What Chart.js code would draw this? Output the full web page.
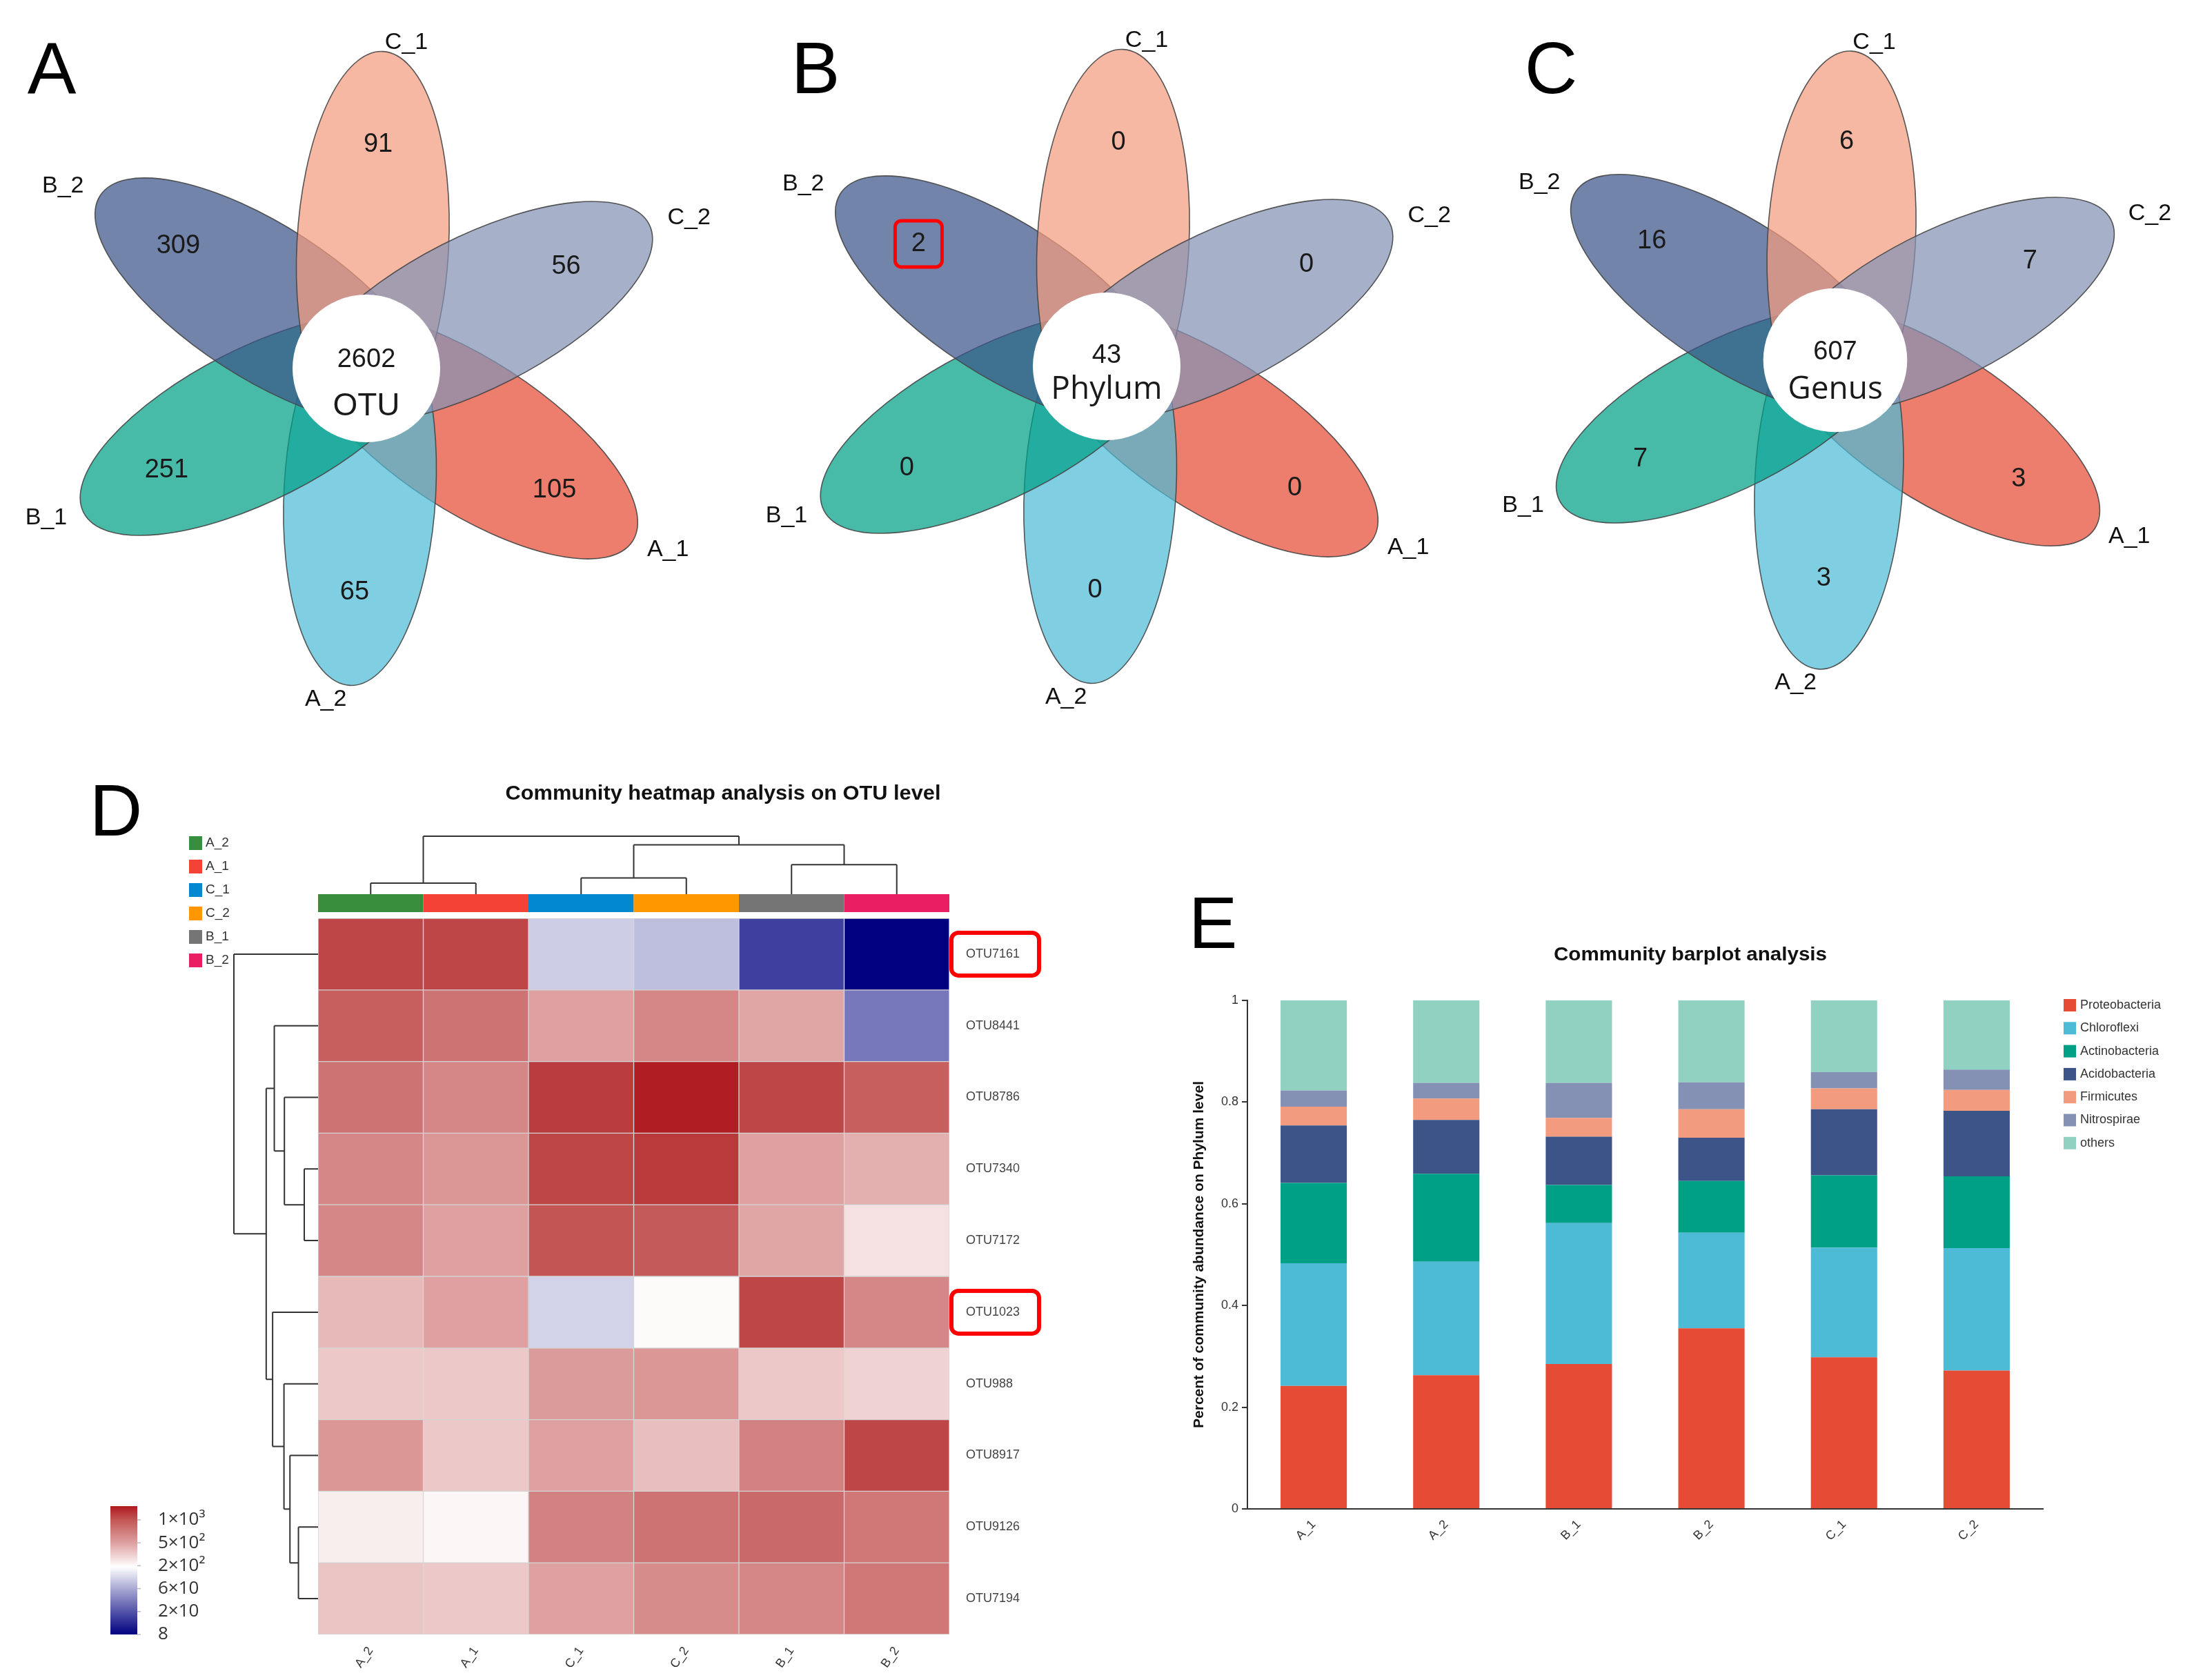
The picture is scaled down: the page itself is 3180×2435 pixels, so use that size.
<!DOCTYPE html>
<html>
<head>
<meta charset="utf-8">
<title>OTU / Phylum / Genus Venn, heatmap and barplot</title>
<script src="https://cdn.jsdelivr.net/npm/chart.js@4.4.1/dist/chart.umd.min.js"></script>
<style>
  html, body { margin: 0; padding: 0; background: #fff; }
  body { position: relative; width: 3180px; height: 2435px; overflow: hidden; font-family: 'Liberation Sans', Arial, sans-serif; }
  canvas { position: absolute; }
  .tag { position: absolute; font-size: 106px; line-height: 1; color: #000; transform: translate(-50%, -50%); }
</style>
</head>
<body>
<div class="tag" style="left:75px;top:98px">A</div>
<div class="tag" style="left:1182px;top:98px">B</div>
<div class="tag" style="left:2248px;top:98px">C</div>
<div class="tag" style="left:168px;top:1174px">D</div>
<div class="tag" style="left:1758px;top:1337px">E</div>

<canvas id="vennA" width="1060" height="1060" style="left:0;top:0"></canvas>
<canvas id="vennB" width="1060" height="1060" style="left:1060px;top:0"></canvas>
<canvas id="vennC" width="1060" height="1060" style="left:2120px;top:0"></canvas>
<canvas id="heat" width="1600" height="1335" style="left:0;top:1100px"></canvas>
<canvas id="bars" width="1530" height="1135" style="left:1650px;top:1300px"></canvas>

<script>
// ---- Venn data (petal order) ----
const vennGroups = ['C_1', 'C_2', 'A_1', 'A_2', 'B_1', 'B_2'];
const otuUnique = [91, 56, 105, 65, 251, 309];
const otuCore = 2602;
const phylumUnique = [0, 0, 0, 0, 0, 2];
const phylumCore = 43;
const genusUnique = [6, 7, 3, 3, 7, 16];
const genusCore = 607;

// ---- Heatmap data ----
const heatSamples = ['A_2', 'A_1', 'C_1', 'C_2', 'B_1', 'B_2'];
const otuIds = ['OTU7161', 'OTU8441', 'OTU8786', 'OTU7340', 'OTU7172', 'OTU1023', 'OTU988', 'OTU8917', 'OTU9126', 'OTU7194'];
const otu7161 = [1110, 1110, 96, 79, 16, 8];
const otu8441 = [914, 758, 500, 629, 474, 32];
const otu8786 = [758, 629, 1190, 1470, 1110, 914];
const otu7340 = [629, 547, 1110, 1206, 500, 428];
const otu7172 = [629, 500, 1000, 952, 474, 258];
const otu1023 = [387, 500, 103, 200, 1110, 629];
const otu988 = [334, 334, 524, 547, 334, 302];
const otu8917 = [547, 334, 500, 370, 660, 1110];
const otu9126 = [227, 210, 660, 758, 830, 723];
const otu7194 = [346, 334, 500, 603, 629, 723];
const heatRows = [otu7161, otu8441, otu8786, otu7340, otu7172, otu1023, otu988, otu8917, otu9126, otu7194];
const legendValues = [8, 20, 60, 200, 500, 1000];
const legendLabels = ['8', '2×10', '6×10', '2×10²', '5×10²', '1×10³'];
// dendrograms, hclust style: negative = leaf, positive = earlier merge
const colMerges = [[-1, -2], [-3, -4], [-5, -6], [2, 3], [1, 4]];
const colHeights = [0.19, 0.28, 0.51, 0.85, 1.0];
const rowMerges = [[-4, -5], [-3, 1], [-2, 2], [-9, -10], [-8, 4], [-7, 5], [-6, 6], [3, 7], [-1, 8]];
const rowHeights = [0.164, 0.40, 0.52, 0.233, 0.334, 0.405, 0.54, 0.616, 1.0];
const highlightedOtus = ['OTU7161', 'OTU1023'];

// ---- Barplot data ----
const barSamples = ['A_1', 'A_2', 'B_1', 'B_2', 'C_1', 'C_2'];
const phyla = ['Proteobacteria', 'Chloroflexi', 'Actinobacteria', 'Acidobacteria', 'Firmicutes', 'Nitrospirae', 'others'];
const proteobacteria = [0.242, 0.263, 0.285, 0.355, 0.298, 0.272];
const chloroflexi = [0.241, 0.223, 0.277, 0.188, 0.216, 0.241];
const actinobacteria = [0.158, 0.173, 0.075, 0.102, 0.142, 0.141];
const acidobacteria = [0.113, 0.106, 0.095, 0.085, 0.130, 0.129];
const firmicutes = [0.037, 0.042, 0.037, 0.056, 0.041, 0.041];
const nitrospirae = [0.032, 0.031, 0.069, 0.053, 0.032, 0.040];
const others = [0.177, 0.162, 0.162, 0.161, 0.141, 0.136];
const phylumSeries = [proteobacteria, chloroflexi, actinobacteria, acidobacteria, firmicutes, nitrospirae, others];

// ---- Styles ----
const npg = ['#E64B35', '#4DBBD5', '#00A087', '#3C5488', '#F39B7F', '#8491B4', '#91D1C2'];
const petalFill = { A_1: '#E64B35', A_2: '#4DBBD5', B_1: '#00A087', B_2: '#3C5488', C_1: '#F39B7F', C_2: '#8491B4' };
const groupColours = { A_2: '#388E3C', A_1: '#F44336', C_1: '#0288D1', C_2: '#FF9800', B_1: '#757575', B_2: '#E91E63' };
const FONT = "'Liberation Sans', Arial, sans-serif";

Chart.defaults.font.family = FONT;
Chart.defaults.color = '#333';
Chart.defaults.animation = false;
Chart.defaults.events = [];
Chart.defaults.plugins.legend.display = false;
Chart.defaults.plugins.tooltip.enabled = false;

function hexToRgba(hex, a) {
    const r = parseInt(hex.slice(1, 3), 16), g = parseInt(hex.slice(3, 5), 16), b = parseInt(hex.slice(5, 7), 16);
    return `rgba(${r}, ${g}, ${b}, ${a})`;
}

// draws text squeezed to a given width (stands in for a narrow bold face)
function fitText(ctx, text, cx, cy, font, width) {
    ctx.save();
    ctx.font = font;
    const w = ctx.measureText(text).width;
    ctx.translate(cx, cy);
    ctx.scale(width / w, 1);
    ctx.textAlign = 'center';
    ctx.textBaseline = 'middle';
    ctx.fillText(text, 0, 0);
    ctx.restore();
}

// --- Venn flowers ---
const petalAngles = [87, 27, -33, -93, -153, 147];
const labelAngles = [83, 25, -31, -97, -155, 149];
const labelRadii = [476, 516, 510, 483, 512, 513];
const PETAL_OFFSET = 178, PETAL_A = 282, PETAL_B = 110, NUM_R = 325, CORE_R = 107;

function makeVenn(id, unique, core, word, o) {
    const W = 1060, H = 1060;
    const vennDraw = {
        id: 'vennDraw',
        afterDatasetsDraw(chart) {
            const { ctx, scales: { x, y } } = chart;
            const s = o.size;
            const unit = (x.getPixelForValue(100) - x.getPixelForValue(0)) / 100;
            const at = (r, deg) => [x.getPixelForValue(r * s * Math.cos(deg * Math.PI / 180)),
                                    y.getPixelForValue(r * s * Math.sin(deg * Math.PI / 180))];
            ctx.save();
            // petals, drawn A_1 .. C_2 so later groups sit on top
            vennGroups.map((g, i) => i)
                .sort((a, b) => vennGroups[a].localeCompare(vennGroups[b]))
                .forEach(i => {
                    const [px, py] = at(PETAL_OFFSET, petalAngles[i]);
                    ctx.beginPath();
                    ctx.ellipse(px, py, PETAL_A * s * unit, PETAL_B * s * unit, -petalAngles[i] * Math.PI / 180, 0, Math.PI * 2);
                    ctx.fillStyle = hexToRgba(petalFill[vennGroups[i]], 0.72);
                    ctx.fill();
                    ctx.lineWidth = 1.6;
                    ctx.strokeStyle = 'rgba(70, 70, 70, 0.9)';
                    ctx.stroke();
                });
            // white core
            const [ox, oy] = at(0, 0);
            ctx.beginPath();
            ctx.arc(ox, oy, CORE_R * s * unit, 0, Math.PI * 2);
            ctx.fillStyle = '#fff';
            ctx.fill();

            ctx.fillStyle = '#1a1a1a';
            ctx.textAlign = 'center';
            ctx.textBaseline = 'middle';
            ctx.font = `38px ${FONT}`;
            ctx.fillText(String(core), ox, oy + o.coreDy[0]);
            ctx.font = o.wordFont;
            ctx.fillText(word, ox, oy + o.coreDy[1]);

            ctx.font = `38px ${FONT}`;
            unique.forEach((v, i) => {
                const [nx, ny] = at(NUM_R, petalAngles[i]);
                ctx.fillStyle = '#1a1a1a';
                ctx.fillText(String(v), nx, ny);
                if (o.highlight === vennGroups[i]) {
                    ctx.beginPath();
                    ctx.roundRect(nx - 34, ny - 34, 68, 67, 9);
                    ctx.lineWidth = 5;
                    ctx.strokeStyle = '#f00';
                    ctx.stroke();
                }
            });
            ctx.font = `34px ${FONT}`;
            ctx.fillStyle = '#111';
            vennGroups.forEach((g, i) => {
                const [lx, ly] = at(labelRadii[i], labelAngles[i]);
                ctx.fillText(g, lx, ly);
            });
            ctx.restore();
        }
    };
    return new Chart(document.getElementById(id), {
        type: 'scatter',
        data: { datasets: [{ data: [], pointRadius: 0 }] },
        options: {
            responsive: false,
            devicePixelRatio: 1,
            layout: { padding: 0 },
            scales: {
                x: { type: 'linear', display: false, min: -o.cx, max: W - o.cx },
                y: { type: 'linear', display: false, min: -(H - o.cy), max: o.cy }
            }
        },
        plugins: [vennDraw]
    });
}

makeVenn('vennA', otuUnique, otuCore, 'OTU', { cx: 531, cy: 534, size: 1, coreDy: [-12, 55], wordFont: `46px ${FONT}` });
makeVenn('vennB', phylumUnique, phylumCore, 'Phylum', { cx: 544, cy: 531, size: 1, coreDy: [-15, 34], wordFont: "46px 'Open Sans', sans-serif", highlight: 'B_2' });
makeVenn('vennC', genusUnique, genusCore, 'Genus', { cx: 540, cy: 522, size: 0.975, coreDy: [-11, 43], wordFont: "46px 'Open Sans', sans-serif" });

// --- Heatmap colour scale ---
const colourStops = [[0, [0, 0, 128]], [1.5, [125, 125, 190]], [2.95, [255, 255, 255]], [4, [222, 160, 160]], [5, [195, 85, 85]], [5.6, [175, 25, 30]]];
const T_MAX = 5.6;

function legendPos(v) {
    const lv = Math.log10(v);
    const n = legendValues.length;
    for (let i = 0; i < n - 1; i++) {
        const a = Math.log10(legendValues[i]), b = Math.log10(legendValues[i + 1]);
        if (lv <= b || i === n - 2) return Math.max(0, Math.min(T_MAX, i + (lv - a) / (b - a)));
    }
}

function colourAt(t) {
    for (let i = 0; i < colourStops.length - 1; i++) {
        const [t0, c0] = colourStops[i], [t1, c1] = colourStops[i + 1];
        if (t <= t1 || i === colourStops.length - 2) {
            const f = Math.max(0, Math.min(1, (t - t0) / (t1 - t0)));
            const c = c0.map((v, k) => Math.round(v + (c1[k] - v) * f));
            return `rgb(${c[0]}, ${c[1]}, ${c[2]})`;
        }
    }
}

const heatColour = v => colourAt(legendPos(v));

function drawDendrogram(ctx, merges, heights, leafPos, toXY) {
    const nodes = [];
    const node = ref => ref < 0 ? { p: leafPos[-ref - 1], h: 0 } : nodes[ref - 1];
    const seg = (p1, h1, p2, h2) => {
        const [x1, y1] = toXY(p1, h1), [x2, y2] = toXY(p2, h2);
        ctx.moveTo(x1, y1);
        ctx.lineTo(x2, y2);
    };
    merges.forEach(([l, r], k) => {
        const a = node(l), b = node(r), h = heights[k];
        ctx.beginPath();
        seg(a.p, a.h, a.p, h);
        seg(b.p, b.h, b.p, h);
        seg(a.p, h, b.p, h);
        ctx.stroke();
        nodes.push({ p: (a.p + b.p) / 2, h });
    });
}

const heatExtras = {
    id: 'heatExtras',
    afterDraw(chart) {
        const { ctx, chartArea: area, scales: { x, y } } = chart;
        const colW = x.getPixelForValue(1) - x.getPixelForValue(0);
        const colX = heatSamples.map((s, i) => x.getPixelForValue(i));
        const rowY = otuIds.map((s, i) => y.getPixelForValue(i + 0.5));
        ctx.save();

        // title
        ctx.fillStyle = '#111';
        fitText(ctx, 'Community heatmap analysis on OTU level', 1048, 51, `bold 29px ${FONT}`, 631);

        // sample colour strip
        const stripTop = area.top - 35;
        heatSamples.forEach((s, i) => {
            ctx.fillStyle = groupColours[s];
            ctx.fillRect(colX[i] - colW / 2, stripTop, colW, 26);
        });

        // dendrograms
        ctx.strokeStyle = '#333';
        ctx.lineWidth = 2;
        drawDendrogram(ctx, colMerges, colHeights, colX, (p, h) => [p, stripTop - h * 84]);
        drawDendrogram(ctx, rowMerges, rowHeights, rowY, (p, h) => [area.left - h * 122, p]);

        // group legend
        ctx.textAlign = 'left';
        ctx.textBaseline = 'middle';
        ctx.font = `19px ${FONT}`;
        heatSamples.forEach((s, i) => {
            const cy = 122 + i * 34;
            ctx.fillStyle = groupColours[s];
            ctx.fillRect(274, cy - 10, 19, 20);
            ctx.fillStyle = '#333';
            ctx.fillText(s, 298, cy);
        });

        // colour legend
        const barL = 160, barW = 39, barTop = 1083, barBot = 1269;
        const tY = t => barBot - t / T_MAX * (barBot - barTop);
        const grad = ctx.createLinearGradient(0, barBot, 0, barTop);
        colourStops.forEach(([t]) => grad.addColorStop(t / T_MAX, colourAt(t)));
        ctx.fillStyle = grad;
        ctx.fillRect(barL, barTop, barW, barBot - barTop);
        ctx.strokeStyle = '#bbb';
        ctx.lineWidth = 1.5;
        ctx.font = "26px 'Open Sans', sans-serif";
        ctx.fillStyle = '#333';
        legendValues.forEach((v, i) => {
            const ty = tY(legendPos(v));
            ctx.beginPath();
            ctx.moveTo(barL + barW, ty);
            ctx.lineTo(barL + barW + 5, ty);
            ctx.stroke();
            ctx.fillText(legendLabels[i], 229, ty);
        });

        // highlighted OTU labels
        ctx.strokeStyle = '#f00';
        ctx.lineWidth = 6;
        highlightedOtus.forEach(id => {
            const cy = rowY[otuIds.indexOf(id)];
            ctx.beginPath();
            ctx.roundRect(area.right + 3, cy - 31, 127, 62, 10);
            ctx.stroke();
        });
        ctx.restore();
    }
};

new Chart(document.getElementById('heat'), {
    type: 'bar',
    data: {
        labels: heatSamples,
        datasets: otuIds.map((id, r) => ({
            label: id,
            data: heatSamples.map(() => 1),
            backgroundColor: heatRows[r].map(heatColour),
            borderColor: '#d4d4d4',
            borderWidth: 1,
            borderSkipped: false,
            barPercentage: 1,
            categoryPercentage: 1
        }))
    },
    options: {
        responsive: false,
        devicePixelRatio: 1,
        layout: { padding: { left: 461, top: 231, right: 0, bottom: 0 } },
        scales: {
            x: {
                stacked: true,
                grid: { display: false },
                border: { display: false },
                ticks: { autoSkip: false, minRotation: 55, maxRotation: 55, padding: 6, font: { size: 18 }, color: '#333' },
                afterFit: s => { s.height = 66; }
            },
            y: {
                stacked: true,
                position: 'right',
                min: 0,
                max: 10,
                reverse: true,
                grid: { display: false },
                border: { display: false },
                afterBuildTicks: s => { s.ticks = otuIds.map((id, i) => ({ value: i + 0.5 })); },
                ticks: { autoSkip: false, padding: 16, font: { size: 18 }, color: '#444', callback: (v, i) => otuIds[i] },
                afterFit: s => { s.width = 224; }
            }
        }
    },
    plugins: [heatExtras]
});

// --- Barplot ---
const barExtras = {
    id: 'barExtras',
    afterDraw(chart) {
        const { ctx } = chart;
        ctx.save();
        ctx.fillStyle = '#111';
        fitText(ctx, 'Community barplot analysis', 800, 84, `bold 28px ${FONT}`, 396);
        ctx.font = `18px ${FONT}`;
        ctx.textAlign = 'left';
        ctx.textBaseline = 'middle';
        phyla.forEach((name, k) => {
            const cy = 157 + k * 33.3;
            ctx.fillStyle = npg[k];
            ctx.fillRect(1341, cy - 9, 18, 18);
            ctx.fillStyle = '#333';
            ctx.fillText(name, 1365, cy);
        });
        ctx.restore();
    }
};

new Chart(document.getElementById('bars'), {
    type: 'bar',
    data: {
        labels: barSamples,
        datasets: phyla.map((name, k) => ({
            label: name,
            data: phylumSeries[k],
            backgroundColor: npg[k],
            barPercentage: 0.5,
            categoryPercentage: 1
        }))
    },
    options: {
        responsive: false,
        devicePixelRatio: 1,
        layout: { padding: { left: 40, top: 150, right: 219, bottom: 0 } },
        scales: {
            x: {
                stacked: true,
                grid: { display: false },
                border: { color: '#333', width: 2 },
                ticks: { autoSkip: false, minRotation: 45, maxRotation: 45, padding: 4, font: { size: 18 }, color: '#333' },
                afterFit: s => { s.height = 248; }
            },
            y: {
                stacked: true,
                min: 0,
                max: 1,
                ticks: { stepSize: 0.2, padding: 5, font: { size: 18 }, color: '#333', callback: v => String(+v.toFixed(1)) },
                grid: { display: true, drawOnChartArea: false, tickLength: 8, color: '#333', lineWidth: 2 },
                border: { color: '#333', width: 2 },
                title: {
                    display: true,
                    text: 'Percent of community abundance on Phylum level',
                    font: { size: 21, weight: 'bold' },
                    color: '#111',
                    padding: { top: 36, bottom: 0 }
                },
                afterFit: s => { s.width = 118; }
            }
        }
    },
    plugins: [barExtras]
});
</script>
</body>
</html>
